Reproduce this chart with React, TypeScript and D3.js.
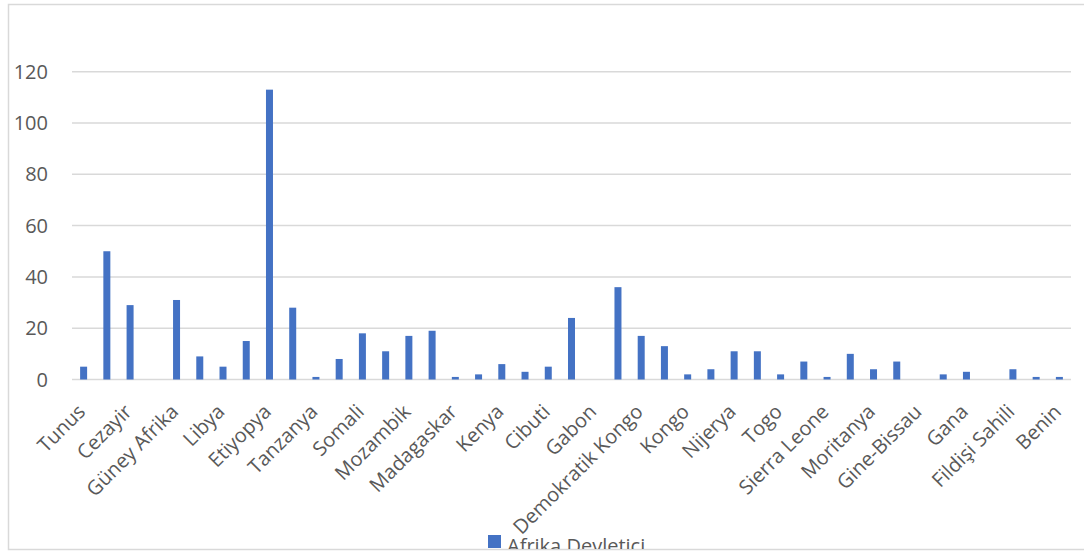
import React from "react";
import * as d3 from "d3";

const categories: string[] = [
  "Tunus", "Mısır", "Cezayir", "Fas", "Güney Afrika", "Sudan", "Libya", "Eritre",
  "Etiyopya", "Uganda", "Tanzanya", "Ruanda", "Somali", "Zambiya", "Mozambik", "Malavi",
  "Madagaskar", "Komorlar", "Kenya", "Zimbabve", "Cibuti", "Namibya", "Gabon", "Kamerun",
  "Demokratik Kongo", "Çad", "Kongo", "Nijer", "Nijerya", "Mali", "Togo", "Liberya",
  "Sierra Leone", "Senegal", "Moritanya", "Gine", "Gine-Bissau", "Burkina Faso", "Gana",
  "Gambiya", "Fildişi Sahili", "Botsvana", "Benin",
];
const values: number[] = [
  5, 50, 29, 0, 31, 9, 5, 15, 113, 28, 1, 8, 18, 11, 17, 19, 1, 2, 6, 3, 5, 24, 0,
  36, 17, 13, 2, 4, 11, 11, 2, 7, 1, 10, 4, 7, 0, 2, 3, 0, 4, 1, 1,
];
const yTicks: number[] = [0, 20, 40, 60, 80, 100, 120];
const seriesName = "Afrika Devletici...";

const W = 1084;
const H = 552;
const FONT = "'Open Sans', sans-serif";

export default function App() {
  const x = d3.scaleBand<string>().domain(categories).range([72, 1071]).paddingInner(0).paddingOuter(0);
  const y = d3.scaleLinear().domain([0, 120]).range([379.5, 71.7]);
  const bw = 7;
  return (
    <svg width={W} height={H} style={{ position: "absolute", left: 0, top: 0 }}>
      <defs>
        <clipPath id="frameClip">
          <rect x={0} y={0} width={W} height={549} />
        </clipPath>
      </defs>
      <rect x={0} y={0} width={W} height={H} fill="#fff" />
      <rect x={8.5} y={4.5} width={1100} height={545} fill="none" stroke="#d9d9d9" strokeWidth={1.5} />
      {yTicks.map((t) => (
        <g key={t}>
          <line x1={72} x2={1071} y1={y(t)} y2={y(t)} stroke="#d9d9d9" strokeWidth={1.5} />
          <text x={48} y={y(t)} dy="0.35em" textAnchor="end" fontFamily={FONT} fontSize={20} fill="#595959">
            {t}
          </text>
        </g>
      ))}
      {categories.map((c, i) => {
        const cx = (x(c) as number) + x.bandwidth() / 2;
        return (
          <rect key={c} x={cx - bw / 2} width={bw} y={y(values[i])} height={y(0) - y(values[i])} fill="#4472C4" />
        );
      })}
      {categories.map((c, i) => {
        if (i % 2 !== 0) return null;
        const cx = (x(c) as number) + x.bandwidth() / 2;
        return (
          <text
            key={"l" + c}
            transform={`translate(${cx - 2},${408}) rotate(-45)`}
            textAnchor="end"
            dy="0.35em"
            fontFamily={FONT}
            fontSize={20}
            fill="#595959"
          >
            {c}
          </text>
        );
      })}
      <g clipPath="url(#frameClip)">
        <rect x={488} y={535} width={13} height={13} fill="#4472C4" />
        <text x={507} y={553} fontFamily={FONT} fontSize={20} fill="#595959">
          {seriesName}
        </text>
      </g>
    </svg>
  );
}
